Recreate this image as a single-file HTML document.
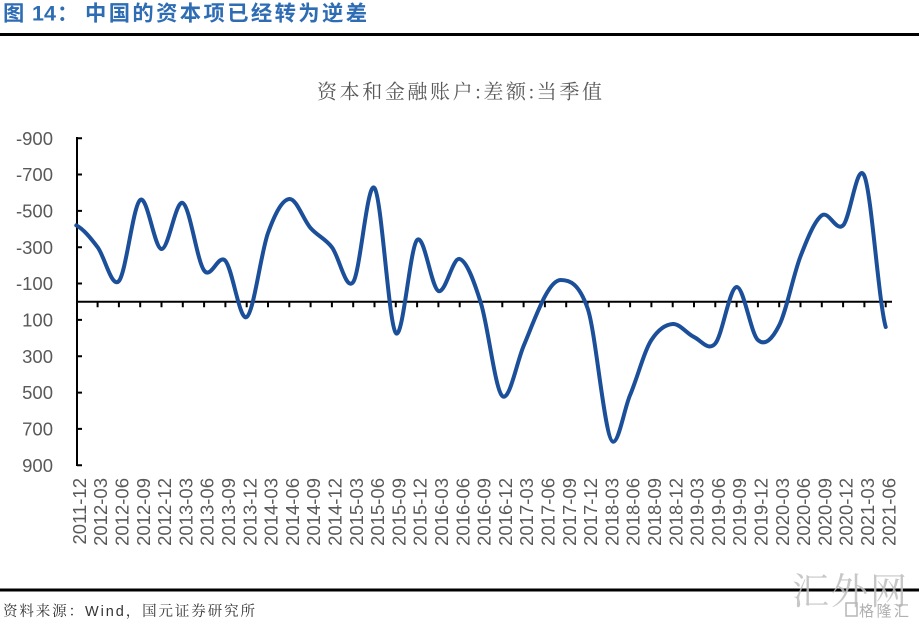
<!DOCTYPE html>
<html>
<head>
<meta charset="utf-8">
<style>
  html,body{margin:0;padding:0;background:#fff;}
  body{width:919px;height:623px;overflow:hidden;}
  svg{display:block;}
</style>
</head>
<body>
<svg width="919" height="623" viewBox="0 0 919 623" xmlns="http://www.w3.org/2000/svg">
  <rect x="0" y="0" width="919" height="623" fill="#fff"/>

  <!-- Header -->
  <g font-family="'Liberation Sans','Noto Sans CJK SC',sans-serif" font-weight="bold" fill="#2e6cb3" font-size="21.3">
    <text x="3" y="20.5" font-family="'Noto Sans CJK SC',sans-serif">图</text>
    <text x="32" y="20.5" font-size="21.5">14</text>
    <text x="57" y="20.5" font-family="'Noto Sans CJK SC',sans-serif">：</text>
    <text x="85" y="20.5" font-family="'Noto Sans CJK SC',sans-serif" textLength="282" lengthAdjust="spacing">中国的资本项已经转为逆差</text>
  </g>
  <rect x="0" y="33" width="919" height="3" fill="#000"/>

  <!-- Chart title -->
  <text x="317" y="98.5" font-family="'Liberation Serif','Noto Serif CJK SC',serif" font-size="20" fill="#595959" textLength="285" lengthAdjust="spacing">资本和金融账户:差额:当季值</text>

  <!-- Y axis -->
  <line x1="77" y1="137" x2="77" y2="466" stroke="#000" stroke-width="2"/>
  <path d="M77 138.2h5M77 174.5h5M77 210.9h5M77 247.2h5M77 283.5h5M77 319.9h5M77 356.2h5M77 392.6h5M77 428.9h5M77 465.2h5" stroke="#000" stroke-width="2"/>
  <g font-family="'Liberation Sans',Arial,sans-serif" font-size="18.5" fill="#595959" text-anchor="end">
    <text x="53" y="144.8">-900</text>
    <text x="53" y="181.1">-700</text>
    <text x="53" y="217.5">-500</text>
    <text x="53" y="253.8">-300</text>
    <text x="53" y="290.1">-100</text>
    <text x="53" y="326.5">100</text>
    <text x="53" y="362.8">300</text>
    <text x="53" y="399.2">500</text>
    <text x="53" y="435.5">700</text>
    <text x="53" y="471.8">900</text>
  </g>

  <!-- Zero / category axis -->
  <line x1="76" y1="301.7" x2="892" y2="301.7" stroke="#000" stroke-width="2"/>
  <path stroke="#000" stroke-width="2" d="M97.6 301.7v5.5M118.9 301.7v5.5M140.2 301.7v5.5M161.5 301.7v5.5M182.8 301.7v5.5M204.1 301.7v5.5M225.4 301.7v5.5M246.7 301.7v5.5M268 301.7v5.5M289.3 301.7v5.5M310.6 301.7v5.5M331.9 301.7v5.5M353.2 301.7v5.5M374.5 301.7v5.5M395.8 301.7v5.5M417.1 301.7v5.5M438.4 301.7v5.5M459.7 301.7v5.5M481 301.7v5.5M502.3 301.7v5.5M523.6 301.7v5.5M544.9 301.7v5.5M566.2 301.7v5.5M587.5 301.7v5.5M608.8 301.7v5.5M630.1 301.7v5.5M651.4 301.7v5.5M672.7 301.7v5.5M694 301.7v5.5M715.3 301.7v5.5M736.6 301.7v5.5M757.9 301.7v5.5M779.2 301.7v5.5M800.5 301.7v5.5M821.8 301.7v5.5M843.1 301.7v5.5M864.4 301.7v5.5M885.7 301.7v5.5"/>

  <!-- Series -->
  <path fill="none" stroke="#1c4f99" stroke-width="4" stroke-linejoin="round" stroke-linecap="round" d="M76.3,225.4
    C83.4,229.0 90.5,237.9 97.6,247.2
    C104.7,256.5 111.8,288.9 118.9,281.0
    C126.0,273.1 133.1,205.3 140.2,200
    C147.3,194.7 154.4,248.5 161.5,249.0
    C168.6,249.5 175.7,199.4 182.8,203
    C189.9,206.6 197.0,260.9 204.1,270.5
    C211.2,280.1 218.3,253.1 225.4,260.8
    C232.5,268.6 239.6,321.6 246.7,317
    C253.8,312.4 260.9,252.7 268.0,233
    C275.1,213.3 282.2,199.8 289.3,199
    C296.4,198.2 303.5,220.1 310.6,228.1
    C317.7,236.1 324.8,238.2 331.9,247.2
    C339.0,256.2 346.1,291.9 353.2,282.0
    C360.3,272.1 367.4,179.5 374.5,188
    C381.6,196.5 388.7,324.3 395.8,333
    C402.9,341.7 410.0,247.0 417.1,240
    C424.2,233.0 431.3,287.8 438.4,291
    C445.5,294.2 452.6,256.9 459.7,259
    C466.8,261.1 473.9,280.7 481.0,303.5
    C488.1,326.3 495.2,389.8 502.3,396
    C509.4,402.3 516.5,363 523.6,346
    C535.9,316.5 548.3,280 560.7,280
    C569.6,280 578.6,283 587.5,308
    C596.1,332 604.7,441.7 613.3,441.7
    C618.9,441.7 624.5,408 630.1,395
    C637.2,378.4 644.3,350.8 651.4,340
    C658.5,329.2 665.6,324.5 672.7,324
    C679.8,323.5 686.9,333.8 694.0,337
    C701.1,340.3 708.2,351.8 715.3,343.5
    C722.4,335.2 729.5,287.6 736.6,287
    C743.7,286.4 750.8,333.6 757.9,340
    C765.0,346.4 772.1,339.3 779.2,325.3
    C786.3,311.4 793.4,274.6 800.5,256.3
    C807.6,238.0 814.7,220.6 821.8,215.4
    C828.9,210.3 836.0,232.0 843.1,225.4
    C850.2,218.8 857.3,159.1 864.4,176
    C871.5,192.9 878.6,302 885.7,327"/>

  <!-- X labels -->
  <g font-family="'Liberation Sans',Arial,sans-serif" font-size="18.5" fill="#595959" text-anchor="end">
    <text transform="translate(85.9,478) rotate(-90)">2011-12</text>
    <text transform="translate(107.2,478) rotate(-90)">2012-03</text>
    <text transform="translate(128.5,478) rotate(-90)">2012-06</text>
    <text transform="translate(149.8,478) rotate(-90)">2012-09</text>
    <text transform="translate(171.1,478) rotate(-90)">2012-12</text>
    <text transform="translate(192.4,478) rotate(-90)">2013-03</text>
    <text transform="translate(213.7,478) rotate(-90)">2013-06</text>
    <text transform="translate(235.0,478) rotate(-90)">2013-09</text>
    <text transform="translate(256.3,478) rotate(-90)">2013-12</text>
    <text transform="translate(277.6,478) rotate(-90)">2014-03</text>
    <text transform="translate(298.9,478) rotate(-90)">2014-06</text>
    <text transform="translate(320.2,478) rotate(-90)">2014-09</text>
    <text transform="translate(341.5,478) rotate(-90)">2014-12</text>
    <text transform="translate(362.8,478) rotate(-90)">2015-03</text>
    <text transform="translate(384.1,478) rotate(-90)">2015-06</text>
    <text transform="translate(405.4,478) rotate(-90)">2015-09</text>
    <text transform="translate(426.7,478) rotate(-90)">2015-12</text>
    <text transform="translate(448.0,478) rotate(-90)">2016-03</text>
    <text transform="translate(469.3,478) rotate(-90)">2016-06</text>
    <text transform="translate(490.6,478) rotate(-90)">2016-09</text>
    <text transform="translate(511.9,478) rotate(-90)">2016-12</text>
    <text transform="translate(533.2,478) rotate(-90)">2017-03</text>
    <text transform="translate(554.5,478) rotate(-90)">2017-06</text>
    <text transform="translate(575.8,478) rotate(-90)">2017-09</text>
    <text transform="translate(597.1,478) rotate(-90)">2017-12</text>
    <text transform="translate(618.4,478) rotate(-90)">2018-03</text>
    <text transform="translate(639.7,478) rotate(-90)">2018-06</text>
    <text transform="translate(661.0,478) rotate(-90)">2018-09</text>
    <text transform="translate(682.3,478) rotate(-90)">2018-12</text>
    <text transform="translate(703.6,478) rotate(-90)">2019-03</text>
    <text transform="translate(724.9,478) rotate(-90)">2019-06</text>
    <text transform="translate(746.2,478) rotate(-90)">2019-09</text>
    <text transform="translate(767.5,478) rotate(-90)">2019-12</text>
    <text transform="translate(788.8,478) rotate(-90)">2020-03</text>
    <text transform="translate(810.1,478) rotate(-90)">2020-06</text>
    <text transform="translate(831.4,478) rotate(-90)">2020-09</text>
    <text transform="translate(852.7,478) rotate(-90)">2020-12</text>
    <text transform="translate(874.0,478) rotate(-90)">2021-03</text>
    <text transform="translate(895.3,478) rotate(-90)">2021-06</text>
  </g>

  <!-- Footer line -->
  <rect x="0" y="588.5" width="919" height="3" fill="#000"/>

  <!-- Source -->
  <text x="3" y="616" font-family="'Liberation Sans','Noto Serif CJK SC',serif" font-size="14.5" fill="#333" textLength="252" lengthAdjust="spacing">资料来源：Wind，国元证券研究所</text>

  <!-- Watermark -->
  <text x="792" y="604" font-family="'Noto Serif CJK SC',serif" font-size="37" fill="#bdbdbd" fill-opacity="0.85" textLength="115" lengthAdjust="spacing">汇外网</text>
  <rect x="846" y="603" width="11" height="13" fill="none" stroke="#b5b5b5" stroke-width="1.5"/>
  <text x="859" y="616" font-family="'Noto Sans CJK SC',sans-serif" font-size="15" fill="#b0b0b0" textLength="50" lengthAdjust="spacing">格隆汇</text>
</svg>
</body>
</html>
